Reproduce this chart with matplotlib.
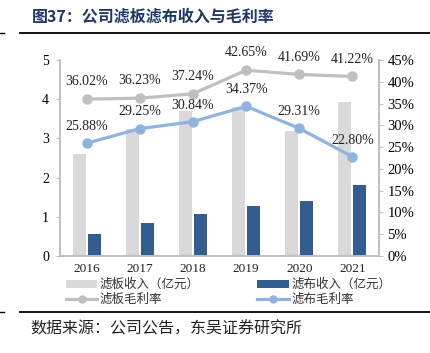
import matplotlib
matplotlib.use("Agg")
import matplotlib.pyplot as plt
from matplotlib.lines import Line2D
from matplotlib.patches import Patch
import numpy as np

years = ["2016", "2017", "2018", "2019", "2020", "2021"]
plate_rev = [2.59, 3.25, 3.70, 3.80, 3.20, 3.94]
cloth_rev = [0.56, 0.83, 1.06, 1.27, 1.40, 1.82]
plate_gm = [36.02, 36.23, 37.24, 42.65, 41.69, 41.22]
cloth_gm = [25.88, 29.25, 30.84, 34.37, 29.31, 22.80]

title = "图37：公司滤板滤布收入与毛利率"
source = "数据来源：公司公告，东吴证券研究所"
legend_labels = ["滤板收入（亿元）", "滤板毛利率", "滤布收入（亿元）", "滤布毛利率"]

CJK = ["Noto Sans CJK SC", "DejaVu Sans"]
SERIF = ["Liberation Serif", "DejaVu Serif"]

c_light = "#d9d9d9"
c_dark = "#335d91"
c_gray = "#bfbfbf"
c_blue = "#8eb3de"
c_spine = "#bfbfbf"

W, H = 431, 353
fig = plt.figure(figsize=(W / 100, H / 100), dpi=100)

ax = fig.add_axes([60 / W, 1 - 256 / H, (379 - 60) / W, (256 - 60) / H])
ax2 = ax.twinx()

x = np.arange(len(years))
bw = 0.245
ax.bar(x - 0.14, plate_rev, width=bw, color=c_light, zorder=2)
ax.bar(x + 0.14, cloth_rev, width=bw, color=c_dark, zorder=2)
ax.set_ylim(0, 5)
ax.set_yticks(range(0, 6))
ax.set_xlim(-0.5, len(years) - 0.5)
ax.set_xticks(x)
ax.set_xticklabels(years, fontfamily=SERIF, fontsize=9.5, color="#222222")
ax.tick_params(axis="x", length=0, pad=5)
ax.tick_params(axis="y", length=3, color=c_spine, labelsize=10, pad=5)
for lab in ax.get_yticklabels():
    lab.set_fontfamily(SERIF)

ax2.plot(x, plate_gm, color=c_gray, lw=2.3, marker="o", ms=6.5, zorder=3)
ax2.plot(x, cloth_gm, color=c_blue, lw=2.3, marker="o", ms=6.5, zorder=3)
ax2.set_ylim(0, 45)
ax2.set_yticks(range(0, 50, 5))
ax2.set_yticklabels([f"{v}%" for v in range(0, 50, 5)], fontfamily=SERIF, fontsize=10.5)
ax2.tick_params(axis="y", length=3, color=c_spine, pad=3)

for xi, v in zip(x, plate_gm):
    ax2.annotate(f"{v:.2f}%", (xi, v), xytext=(0, 12.5), textcoords="offset points",
                 ha="center", va="center", fontsize=10, fontfamily=SERIF, color="#222222")
for xi, v in zip(x, cloth_gm):
    ax2.annotate(f"{v:.2f}%", (xi, v), xytext=(0, 12), textcoords="offset points",
                 ha="center", va="center", fontsize=10, fontfamily=SERIF, color="#222222")

for a in (ax, ax2):
    a.spines["top"].set_visible(False)
    for s in ("left", "right", "bottom"):
        a.spines[s].set_color(c_spine)
        a.spines[s].set_linewidth(1.2)
ax.set_zorder(1)
ax2.set_zorder(2)
ax.patch.set_visible(False)

handles = [
    Patch(facecolor=c_light, edgecolor="none"),
    Line2D([], [], color=c_gray, lw=2.3, marker="o", ms=5),
    Patch(facecolor=c_dark, edgecolor="none"),
    Line2D([], [], color=c_blue, lw=2.3, marker="o", ms=5),
]
leg = fig.legend(handles, legend_labels, loc="upper left", bbox_to_anchor=(66 / W, 1 - 278 / H),
                 ncol=2, frameon=False, prop={"family": CJK, "size": 9},
                 handlelength=2.5, handleheight=0.6, handletextpad=0.2, columnspacing=4.6,
                 labelspacing=0.15, borderpad=0, borderaxespad=0)
for t in leg.get_texts():
    t.set_color("#333333")

# title and rules
fig.text(32 / W, 1 - 17 / H, title, fontfamily=CJK, fontsize=11.5, fontweight="bold",
         color="#1f3864", ha="left", va="center")
for yy in (33, 311.5):
    fig.add_artist(Line2D([20 / W, 1], [1 - yy / H, 1 - yy / H], color="black", lw=1.3,
                          transform=fig.transFigure))
    fig.add_artist(Line2D([0, 4 / W], [1 - yy / H, 1 - yy / H], color="black", lw=1.0,
                          transform=fig.transFigure))
fig.text(30 / W, 1 - 329 / H, source, fontfamily=CJK, fontsize=11.5, color="#222222",
         ha="left", va="center")

fig.savefig("out.png", dpi=100)
